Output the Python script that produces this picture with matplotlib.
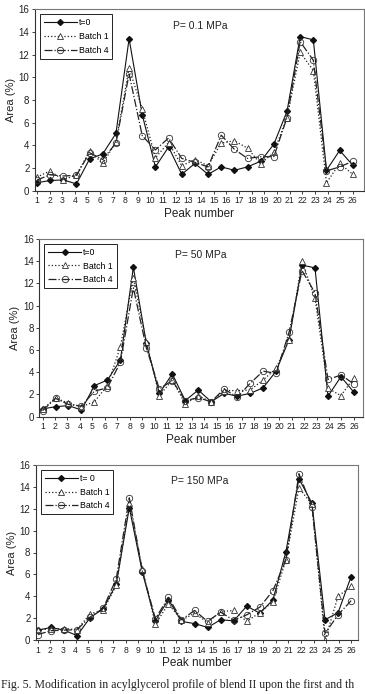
import numpy as np
import matplotlib.pyplot as plt

plt.rcParams['font.family'] = ['Liberation Sans', 'DejaVu Sans']

# ------------------- Data ------------------- #
peak_labels = [str(i) for i in range(1, 27)]

# P = 0.1 MPa
t0_p1 = [0.7, 0.9, 0.95, 0.6, 2.8, 3.25, 5.05, 13.4, 6.7, 2.1, 3.85, 1.45, 2.4,
         1.45, 2.1, 1.8, 2.1, 2.6, 4.1, 7.0, 13.6, 13.3, 1.8, 3.55, 2.25]
b1_p1 = [1.2, 1.75, 0.95, 1.4, 3.5, 2.4, 4.3, 10.8, 7.2, 2.9, 4.25, 2.2, 2.75,
         2.2, 4.2, 4.4, 3.75, 2.35, 3.4, 6.45, 12.2, 10.6, 0.7, 2.4, 1.45]
b4_p1 = [0.95, 1.4, 1.3, 1.35, 3.35, 2.75, 4.2, 10.3, 4.85, 3.6, 4.65, 2.85, 2.5,
         2.1, 4.9, 3.65, 2.85, 3.0, 3.0, 6.45, 13.15, 11.5, 1.75, 2.1, 2.6]

# P = 50 MPa
t0_p2 = [0.7, 0.9, 1.0, 0.6, 2.8, 3.3, 5.1, 13.45, 6.6, 2.1, 3.85, 1.45, 2.4,
         1.35, 2.1, 1.85, 2.1, 2.6, 4.1, 6.95, 13.65, 13.4, 1.85, 3.6, 2.2]
b1_p2 = [0.65, 1.7, 1.2, 0.9, 1.35, 2.8, 6.3, 12.5, 6.75, 1.9, 3.3, 1.15, 1.9,
         1.3, 2.35, 2.35, 2.4, 3.3, 4.35, 6.9, 14.0, 10.65, 2.55, 1.9, 3.5]
b4_p2 = [0.55, 1.65, 1.1, 0.95, 2.3, 2.6, 4.9, 11.6, 6.2, 2.5, 3.25, 1.45, 1.7,
         1.35, 2.5, 1.75, 3.0, 4.1, 3.9, 7.6, 13.15, 11.15, 3.35, 3.75, 2.95]

# P = 150 MPa
t0_p3 = [0.9, 1.15, 0.9, 0.4, 2.05, 2.85, 5.1, 12.1, 6.2, 1.75, 3.7, 1.7, 1.5,
         1.15, 1.85, 1.75, 3.1, 2.45, 3.65, 8.05, 14.75, 12.5, 1.85, 2.5, 5.8]
b1_p3 = [0.95, 1.0, 1.05, 0.95, 2.4, 2.7, 5.0, 12.5, 6.5, 1.45, 3.3, 1.8, 2.45,
         1.6, 2.6, 2.7, 1.7, 2.5, 3.5, 7.3, 13.9, 12.4, 0.0, 4.0, 4.9]
b4_p3 = [0.5, 0.85, 0.9, 0.95, 2.1, 2.9, 5.6, 13.0, 6.3, 1.95, 3.9, 1.85, 2.7,
         1.7, 2.55, 1.8, 2.3, 3.0, 4.5, 7.3, 15.2, 12.2, 0.6, 2.3, 3.6]

caption = 'Fig. 5. Modification in acylglycerol profile of blend II upon the first and th'

FIG_W, FIG_H = 365, 694


def PlotPanel(ax, t0, b1, b4, title, t0_label, xlim):
    x = np.arange(1, len(t0) + 1)
    ax.plot(x, t0, '-', color='#111111', lw=0.8, marker='D', ms=3.0,
            mfc='#111111', mec='#111111', label=t0_label)
    ax.plot(x, b1, ':', color='#222222', lw=0.9, marker='^', ms=4.6,
            mfc='white', mec='#333333', mew=0.6, label='Batch 1')
    ax.plot(x, b4, '-.', color='#222222', lw=0.9, marker='o', ms=4.6,
            mfc='none', mec='#333333', mew=0.6, label='Batch 4')

    ax.set_ylim(0, 16)
    ax.set_xlim(*xlim)
    ax.set_yticks(np.arange(0, 17, 2))
    # 26 tick labels spread over the span of the points
    ax.set_xticks(np.linspace(1, len(t0), len(peak_labels)))
    ax.set_xticklabels(peak_labels, fontsize=6.2)
    ax.tick_params(axis='y', labelsize=7, length=2.5, width=0.6, pad=1.5,
                   colors='#222222')
    ax.tick_params(axis='x', length=2.5, width=0.6, pad=1.5, colors='#222222')
    for side in ['left', 'bottom']:
        ax.spines[side].set_color('#333333')
        ax.spines[side].set_linewidth(0.8)
    for side in ['top', 'right']:
        ax.spines[side].set_color('#777777')
        ax.spines[side].set_linewidth(0.8)

    ax.set_xlabel('Peak number', fontsize=8.5, color='#222222', labelpad=2)
    ax.set_ylabel('Area (%)', fontsize=8, color='#222222', labelpad=2)
    ax.text(0.42, 0.91, title, transform=ax.transAxes, fontsize=7.5,
            color='#222222', va='center')

    leg = ax.legend(loc='upper left', fontsize=6.3, handlelength=3.8,
                    labelspacing=0.55, borderpad=0.45, handletextpad=0.2,
                    borderaxespad=0.55, fancybox=False, framealpha=1)
    leg.get_frame().set_edgecolor('#222222')
    leg.get_frame().set_linewidth(0.7)


fig = plt.figure(figsize=(FIG_W / 100, FIG_H / 100), dpi=100)

# axes boxes in pixels: left, top, right, bottom
boxes = [(35, 9.3, 364, 190.7), (39.3, 239, 363, 416.7), (36, 465, 358.3, 640)]
panels = [
    (t0_p1, b1_p1, b4_p1, 'P= 0.1 MPa', 't=0', (0.85, 25.85)),
    (t0_p2, b1_p2, b4_p2, 'P= 50 MPa', 't=0', (0.75, 25.7)),
    (t0_p3, b1_p3, b4_p3, 'P= 150 MPa', 't= 0', (0.85, 25.55)),
]

for (l, t, r, b), (t0, b1, b4, title, lab, xl) in zip(boxes, panels):
    ax = fig.add_axes([l / FIG_W, 1 - b / FIG_H, (r - l) / FIG_W, (b - t) / FIG_H])
    PlotPanel(ax, t0, b1, b4, title, lab, xl)

fig.text(0.003, 1 - 685 / FIG_H, caption,
         family=['Liberation Serif', 'DejaVu Serif'], fontsize=8.5, color='#222222',
         va='center', ha='left')

fig.savefig('out.png', dpi=100)
